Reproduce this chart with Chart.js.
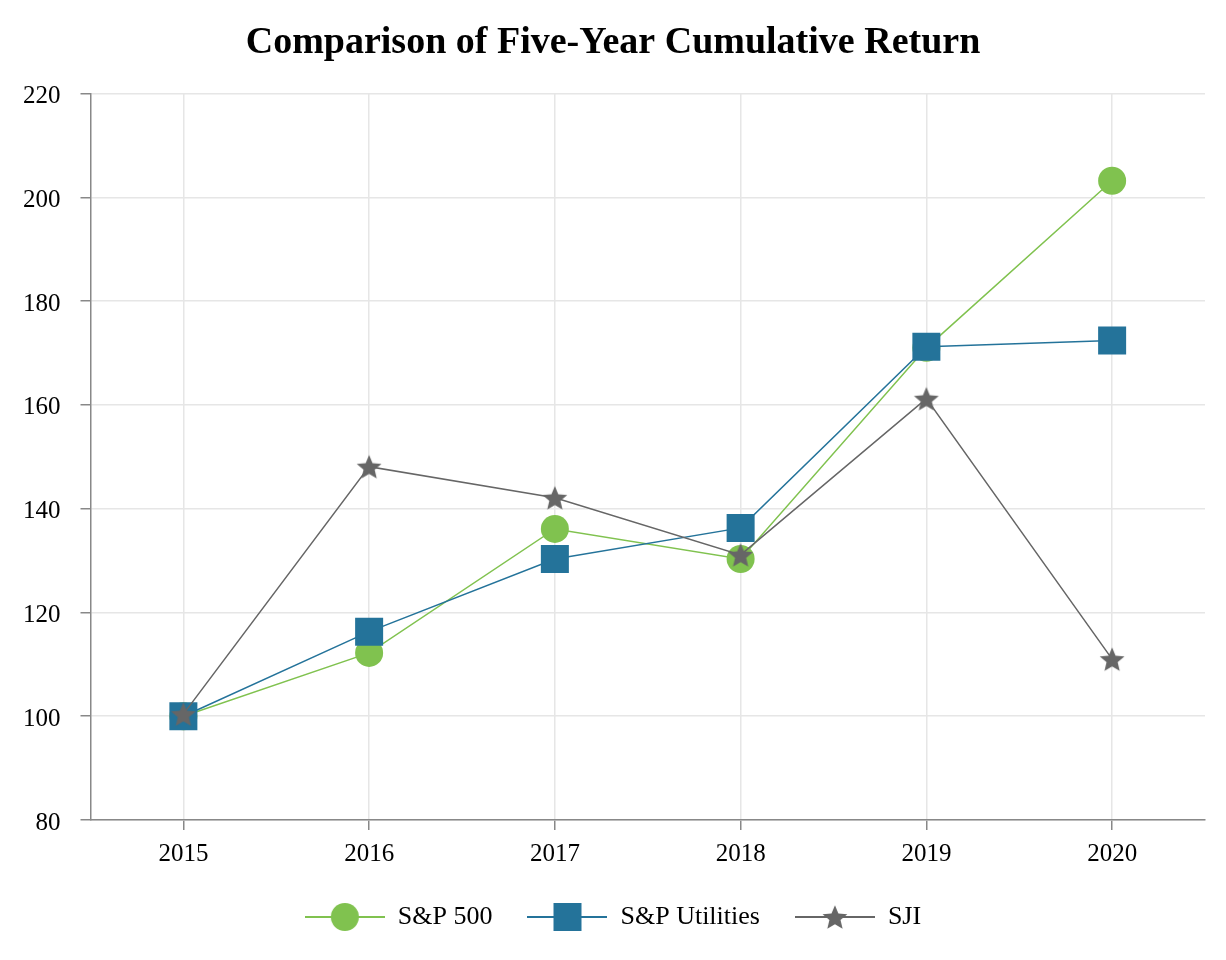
<!DOCTYPE html>
<html>
<head>
<meta charset="utf-8">
<script src="https://cdn.jsdelivr.net/npm/chart.js@4/dist/chart.umd.min.js"></script>
<style>
  html, body { margin: 0; padding: 0; background: #fff; }
  #wrap { width: 1226px; height: 960px; }
</style>
</head>
<body>
<div id="wrap"><canvas id="chart" width="1226" height="960"></canvas></div>
<script>
// Cumulative return data
const years = ['2015', '2016', '2017', '2018', '2019', '2020'];
const sp500 = [100, 112.2, 136.1, 130.3, 171.0, 203.2];
const spUtilities = [100, 116.3, 130.3, 136.3, 171.2, 172.4];
const sji = [100.4, 148.1, 142.1, 131.1, 161.2, 111.0];
const yTicks = [80, 100, 120, 140, 160, 180, 200, 220];

const GREEN = '#80c24f';
const BLUE = '#24739a';
const GREY = '#666666';
const FONT = "'Liberation Serif', 'DejaVu Serif', serif";

// filled five-point star, Chart.js only has a stroked one
function makeStar(r, color) {
    const c = document.createElement('canvas');
    c.width = c.height = Math.ceil(r * 2 + 2);
    const ctx = c.getContext('2d');
    const cx = c.width / 2, cy = c.height / 2 + r * 0.1;
    ctx.beginPath();
    for (let i = 0; i < 10; i++) {
        const rad = i % 2 === 0 ? r : r * 0.45;
        const a = -Math.PI / 2 + i * Math.PI / 5;
        ctx.lineTo(cx + rad * Math.cos(a), cy + rad * Math.sin(a));
    }
    ctx.closePath();
    ctx.fillStyle = color;
    ctx.fill();
    return c;
}

// legend swatch: a short line with the marker in the middle
function makeSwatch(kind, color) {
    const c = document.createElement('canvas');
    c.width = 80; c.height = 30;
    const ctx = c.getContext('2d');
    ctx.strokeStyle = color;
    ctx.lineWidth = 2;
    ctx.beginPath();
    ctx.moveTo(0, 15); ctx.lineTo(80, 15);
    ctx.stroke();
    ctx.fillStyle = color;
    if (kind === 'circle') {
        ctx.beginPath();
        ctx.arc(40, 15, 14, 0, Math.PI * 2);
        ctx.fill();
    } else if (kind === 'rect') {
        ctx.fillRect(26, 1, 28, 28);
    } else {
        const s = makeStar(13, color);
        ctx.drawImage(s, 40 - s.width / 2, 15 - s.height / 2);
    }
    return c;
}

const starPoint = makeStar(13, GREY);
const swatches = [
    makeSwatch('circle', GREEN),
    makeSwatch('rect', BLUE),
    makeSwatch('star', GREY)
];

new Chart(document.getElementById('chart'), {
    type: 'line',
    data: {
        labels: years,
        datasets: [
            {
                label: 'S&P 500',
                data: sp500,
                borderColor: GREEN,
                backgroundColor: GREEN,
                borderWidth: 1.5,
                pointStyle: 'circle',
                pointRadius: 14,
                pointBorderWidth: 0,
                order: 3
            },
            {
                label: 'S&P Utilities',
                data: spUtilities,
                borderColor: BLUE,
                backgroundColor: BLUE,
                borderWidth: 1.5,
                pointStyle: 'rect',
                pointRadius: 19.8,
                pointBorderWidth: 0,
                order: 2
            },
            {
                label: 'SJI',
                data: sji,
                borderColor: GREY,
                backgroundColor: GREY,
                borderWidth: 1.5,
                pointStyle: starPoint,
                pointRadius: 13,
                order: 1
            }
        ]
    },
    options: {
        responsive: false,
        animation: false,
        devicePixelRatio: 1,
        layout: {
            padding: { left: 21, right: 21, top: 10, bottom: 20 }
        },
        plugins: {
            title: {
                display: true,
                text: 'Comparison of Five-Year Cumulative Return',
                color: '#000',
                font: { family: FONT, size: 38, weight: 'bold' },
                padding: { top: 10, bottom: 28 }
            },
            legend: {
                position: 'bottom',
                labels: {
                    usePointStyle: true,
                    pointStyleWidth: 80,
                    boxHeight: 24,
                    padding: 35,
                    color: '#000',
                    font: { family: FONT, size: 26 },
                    generateLabels: chart => chart.data.datasets.map((ds, i) => ({
                        text: ds.label,
                        pointStyle: swatches[i],
                        fillStyle: ds.backgroundColor,
                        strokeStyle: ds.borderColor,
                        lineWidth: 0,
                        hidden: false,
                        datasetIndex: i
                    }))
                }
            },
            tooltip: { enabled: false }
        },
        scales: {
            x: {
                offset: true,
                // let the tick labels sit a little into the legend's top padding
                afterFit: axis => { axis.height -= 9; },
                grid: {
                    color: '#e6e6e6',
                    tickColor: '#888',
                    tickLength: 10,
                    lineWidth: 1.5
                },
                border: { color: '#888', width: 1.5 },
                ticks: {
                    color: '#000',
                    padding: 9,
                    font: { family: FONT, size: 25 }
                }
            },
            y: {
                min: yTicks[0],
                max: yTicks[yTicks.length - 1],
                afterBuildTicks: axis => {
                    axis.ticks = yTicks.map(v => ({ value: v }));
                },
                // labels reach into the left padding so the title stays centred on the page
                afterFit: axis => { axis.width -= 18; },
                grid: {
                    color: '#e6e6e6',
                    tickColor: '#888',
                    tickLength: 10,
                    lineWidth: 1.5
                },
                border: { color: '#888', width: 1.5 },
                ticks: {
                    color: '#000',
                    padding: 20,
                    labelOffset: 3,
                    font: { family: FONT, size: 25 }
                }
            }
        }
    }
});
</script>
</body>
</html>
